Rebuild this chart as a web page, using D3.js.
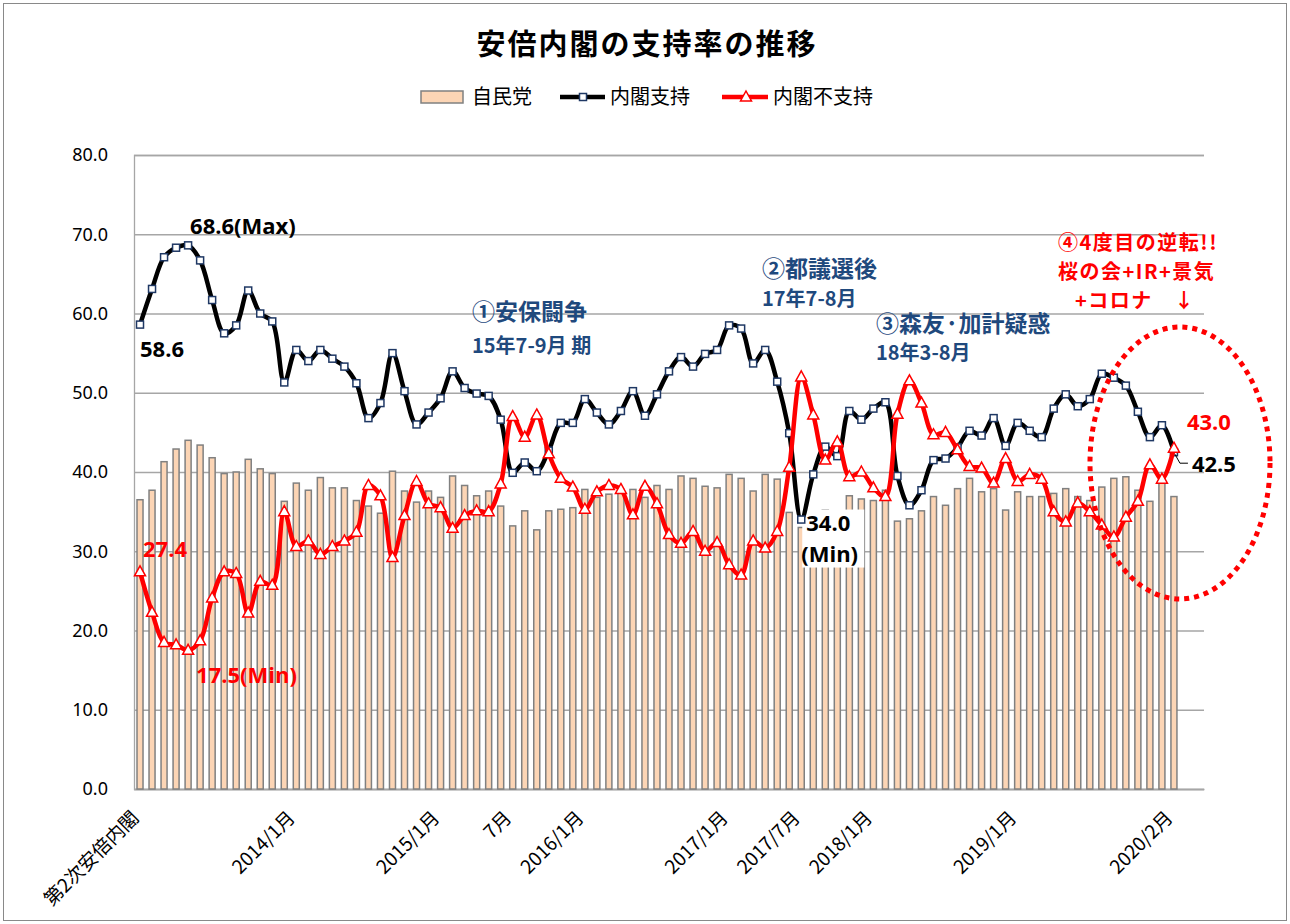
<!DOCTYPE html>
<html>
<head>
<meta charset="UTF-8">
<title>安倍内閣の支持率の推移</title>
<script src="https://cdn.jsdelivr.net/npm/d3@7"></script>
<style>
  body { margin: 0; background: #fff; }
  text { font-family: "Noto Sans CJK JP", "Noto Sans", sans-serif; }
</style>
</head>
<body>
<script>
// 2012/12 (第2次安倍内閣) 〜 2020/2 の月次データ
var ldp = [
  36.5, 37.7, 41.3, 42.9, 44.0, 43.4, 41.8, 39.8, 40.0, 41.6, 40.4, 39.8, 36.3, 38.6, 37.7,
  39.3, 38.0, 38.0, 36.4, 35.7, 34.8, 40.1, 37.6, 36.2, 37.6, 36.8, 39.5, 38.3, 37.0, 37.6,
  35.7, 33.2, 35.1, 32.7, 35.1, 35.3, 35.5, 37.8, 36.8, 37.2, 37.8, 37.8, 36.8, 38.3, 37.8,
  39.5, 39.2, 38.2, 38.0, 39.7, 39.2, 37.6, 39.7, 39.1, 34.9, 33.0, 34.0, 35.2, 35.1, 37.0,
  36.6, 36.4, 37.7, 33.8, 34.1, 35.1, 36.9, 35.8, 37.9, 39.2, 37.5, 37.9, 35.2, 37.5, 36.9,
  36.9, 37.3, 37.9, 36.9, 36.4, 38.1, 39.2, 39.4, 37.7, 36.3, 38.8, 36.9
];
var support = [
  58.6, 63.1, 67.1, 68.3, 68.6, 66.7, 61.7, 57.5, 58.5, 62.9, 60.0, 59.0, 51.3, 55.4, 54.0,
  55.4, 54.3, 53.3, 51.2, 46.8, 48.7, 55.0, 50.2, 46.0, 47.5, 49.3, 52.7, 50.6, 49.9, 49.6,
  46.6, 39.9, 41.2, 40.1, 42.7, 46.2, 46.2, 49.2, 47.5, 46.0, 47.7, 50.2, 47.1, 49.8, 52.7,
  54.5, 53.3, 54.9, 55.4, 58.5, 58.1, 53.7, 55.4, 51.4, 44.9, 34.0, 39.7, 43.2, 42.0, 47.7,
  46.6, 48.0, 48.8, 39.5, 35.8, 37.7, 41.5, 41.7, 43.1, 45.2, 44.6, 46.8, 43.3, 46.2, 45.2,
  44.4, 48.0, 49.8, 48.3, 49.2, 52.4, 51.9, 50.9, 47.6, 44.4, 45.9, 42.5
];
var nonSupport = [
  27.4, 22.3, 18.5, 18.2, 17.5, 18.7, 24.1, 27.4, 27.2, 22.2, 26.2, 25.7, 35.0, 30.6, 31.3,
  29.6, 30.6, 31.3, 32.4, 38.3, 37.0, 29.2, 34.5, 38.8, 36.0, 35.5, 32.9, 34.5, 35.1, 35.0,
  38.5, 47.0, 44.4, 47.2, 42.3, 39.2, 38.1, 35.3, 37.5, 38.3, 37.8, 34.6, 38.2, 36.0, 32.1,
  31.0, 32.5, 30.0, 31.1, 28.3, 27.0, 31.3, 30.4, 32.5, 40.6, 52.0, 47.2, 41.5, 43.8, 39.4,
  40.0, 38.0, 36.9, 47.3, 51.5, 48.7, 44.7, 45.0, 42.8, 40.7, 40.5, 38.6, 41.7, 38.8, 39.7,
  39.1, 35.0, 33.7, 36.1, 35.0, 33.3, 31.8, 34.3, 36.3, 40.9, 39.1, 43.0
];
var tickIndex = [0, 13, 25, 31, 37, 49, 55, 61, 73, 86];
var tickText = ["第2次安倍内閣", "2014/1月", "2015/1月", "7月", "2016/1月",
                "2017/1月", "2017/7月", "2018/1月", "2019/1月", "2020/2月"];
var yTicks = [0, 10, 20, 30, 40, 50, 60, 70, 80];
var slots = 89; // 軸には末尾に空きが2つ

var W = 1290, H = 924;
var plotL = 134, plotR = 1204, plotT = 155, plotB = 789;
var navy = "#1F497D";

var svg = d3.select("body").append("svg")
    .attr("width", W).attr("height", H);

svg.append("rect").attr("x", 3.5).attr("y", 3.5)
    .attr("width", W - 7).attr("height", H - 7)
    .attr("fill", "#fff").attr("stroke", "#898989");

var x = d3.scaleBand().domain(d3.range(slots)).range([plotL, plotR]);
var cx = function (i) { return x(i) + x.bandwidth() / 2; };
var y = d3.scaleLinear().domain([0, 80]).range([plotB, plotT]);

// 目盛線とY軸
var yAxis = svg.append("g")
    .attr("transform", "translate(" + plotL + ",0)")
    .call(d3.axisLeft(y).tickValues(yTicks).tickFormat(d3.format(".1f"))
          .tickSize(-(plotR - plotL)).tickPadding(26));
yAxis.select(".domain").attr("stroke", "#A6A6A6").attr("stroke-width", 1.3);
yAxis.selectAll(".tick line").attr("stroke", "#A6A6A6").attr("stroke-width", 1.3);
yAxis.selectAll(".tick text").attr("font-size", 18).attr("fill", "#000")
    .style("font-family", "'Noto Sans', sans-serif");

// X軸
var xAxis = svg.append("g")
    .attr("transform", "translate(0," + plotB + ")")
    .call(d3.axisBottom(x).tickValues(tickIndex).tickSize(0)
          .tickFormat(function (d) { return tickText[tickIndex.indexOf(d)]; }));
xAxis.select(".domain").attr("stroke", "#A6A6A6").attr("stroke-width", 1.3);
xAxis.selectAll(".tick text")
    .attr("font-size", 19).attr("fill", "#000")
    .attr("text-anchor", "end")
    .attr("y", 0).attr("dy", 0)
    .attr("transform", "translate(0,30) rotate(-45)");

// 自民党（棒）
var bw = x.bandwidth() * 0.5;
svg.append("g").selectAll("rect")
    .data(ldp).enter().append("rect")
    .attr("x", function (d, i) { return cx(i) - bw / 2; })
    .attr("y", function (d) { return y(d); })
    .attr("width", bw)
    .attr("height", function (d) { return plotB - y(d); })
    .attr("fill", "#FCD5B5").attr("stroke", "#808080").attr("stroke-width", 1.5);

// 34.0 (Min) ラベルの白地（棒の上、折れ線の下）
svg.append("rect").attr("x", cx(55) + 1).attr("y", y(support[55]) - 10)
    .attr("width", 62).attr("height", 58).attr("fill", "#fff");

var line = d3.line()
    .x(function (d, i) { return cx(i); })
    .y(function (d) { return y(d); })
    .curve(d3.curveCatmullRom.alpha(0.5));

// 内閣支持
svg.append("path").datum(support).attr("d", line)
    .attr("fill", "none").attr("stroke", "#000").attr("stroke-width", 4.5);
svg.append("g").selectAll("rect")
    .data(support).enter().append("rect")
    .attr("x", function (d, i) { return cx(i) - 3.5; })
    .attr("y", function (d) { return y(d) - 3.5; })
    .attr("width", 7).attr("height", 7)
    .attr("fill", "#fff").attr("stroke", "#1F3864").attr("stroke-width", 1.5);

// 内閣不支持
var tri = "M0,-6L5.5,4L-5.5,4Z";
svg.append("path").datum(nonSupport).attr("d", line)
    .attr("fill", "none").attr("stroke", "#FF0000").attr("stroke-width", 4.5);
svg.append("g").selectAll("path")
    .data(nonSupport).enter().append("path")
    .attr("d", tri)
    .attr("transform", function (d, i) { return "translate(" + cx(i) + "," + y(d) + ")"; })
    .attr("fill", "#fff").attr("stroke", "#FF0000").attr("stroke-width", 1.5);

// タイトル
svg.append("text").attr("x", 647).attr("y", 55)
    .attr("text-anchor", "middle").attr("font-size", 29).attr("font-weight", "bold")
    .attr("letter-spacing", 2)
    .text("安倍内閣の支持率の推移");

// 凡例
var lg = svg.append("g").attr("font-size", 20);
lg.append("rect").attr("x", 421).attr("y", 91).attr("width", 42).attr("height", 12)
    .attr("fill", "#FCD5B5").attr("stroke", "#808080").attr("stroke-width", 1.5);
lg.append("text").attr("x", 472).attr("y", 97).attr("dy", "0.35em").text("自民党");
lg.append("line").attr("x1", 560).attr("x2", 605).attr("y1", 97).attr("y2", 97)
    .attr("stroke", "#000").attr("stroke-width", 4.5);
lg.append("rect").attr("x", 579.5).attr("y", 93.5).attr("width", 7).attr("height", 7)
    .attr("fill", "#fff").attr("stroke", "#1F3864").attr("stroke-width", 1.5);
lg.append("text").attr("x", 610).attr("y", 97).attr("dy", "0.35em").text("内閣支持");
lg.append("line").attr("x1", 722).attr("x2", 768).attr("y1", 97).attr("y2", 97)
    .attr("stroke", "#FF0000").attr("stroke-width", 4.5);
lg.append("path").attr("d", tri).attr("transform", "translate(746,97)")
    .attr("fill", "#fff").attr("stroke", "#FF0000").attr("stroke-width", 1.5);
lg.append("text").attr("x", 773).attr("y", 97).attr("dy", "0.35em").text("内閣不支持");

// 数値ラベル
function label(i, v, dx, dy, txt, color) {
  return svg.append("text")
      .attr("x", cx(i) + dx).attr("y", y(v) + dy)
      .attr("font-size", 22).attr("font-weight", "bold")
      .attr("fill", color)
      .style("font-family", "'Open Sans', 'Noto Sans CJK JP', sans-serif")
      .text(txt);
}
label(4, support[4], 2, -11, "68.6(Max)", "#000");
label(0, support[0], 0, 32, "58.6", "#000");
label(0, nonSupport[0], 3, -15, "27.4", "#FF0000");
label(4, nonSupport[4], 8, 33, "17.5(Min)", "#FF0000");
label(55, support[55], 5, 11, "34.0", "#000");
label(55, support[55], 0, 42, "(Min)", "#000");
label(86, nonSupport[86], 13, -18, "43.0", "#FF0000");
label(86, support[86], 18, 20, "42.5", "#000");
svg.append("path")
    .attr("d", "M" + (cx(86) + 1) + "," + (y(support[86]) + 2) +
               "L" + (cx(86) + 6) + "," + (y(support[86]) + 11) +
               "H" + (cx(86) + 14))
    .attr("fill", "none").attr("stroke", "#000").attr("stroke-width", 1);

// 注記（複数行のテキストボックス）
function note(xp, yp, color, lines) {
  var t = svg.append("text").attr("x", xp).attr("y", yp)
      .attr("font-weight", "bold").attr("fill", color);
  lines.forEach(function (l) {
    t.append("tspan").attr("x", xp + (l.dx || 0)).attr("dy", l.dy)
        .attr("font-size", l.size).attr("letter-spacing", l.ls || 0).text(l.t);
  });
  return t;
}
note(472, 0, navy, [{t: "①安保闘争", size: 23, dy: 320}, {t: "15年7-9月 期", size: 20, dy: 33}]);
note(762, 0, navy, [{t: "②都議選後", size: 23, dy: 277}, {t: "17年7-8月", size: 20, dy: 29}]);
note(876, 0, navy, [{t: "③森友·加計疑惑", size: 23, dy: 332}, {t: "18年3-8月", size: 20, dy: 28}]);
note(1058, 0, "#FF0000", [
  {t: "④4度目の逆転!!", size: 20, dy: 250, ls: 1.5},
  {t: "桜の会+IR+景気", size: 20, dy: 29, ls: 1.5},
  {t: "+コロナ", size: 20, dy: 29, dx: 17, ls: 1.5},
  {t: "↓", size: 20, dy: 0, dx: 116}
]);

// 点線の楕円
svg.append("ellipse").attr("cx", 1180).attr("cy", 463).attr("rx", 90).attr("ry", 136)
    .attr("fill", "none").attr("stroke", "#FF0000").attr("stroke-width", 5)
    .attr("stroke-dasharray", "5,5");
</script>
</body>
</html>
